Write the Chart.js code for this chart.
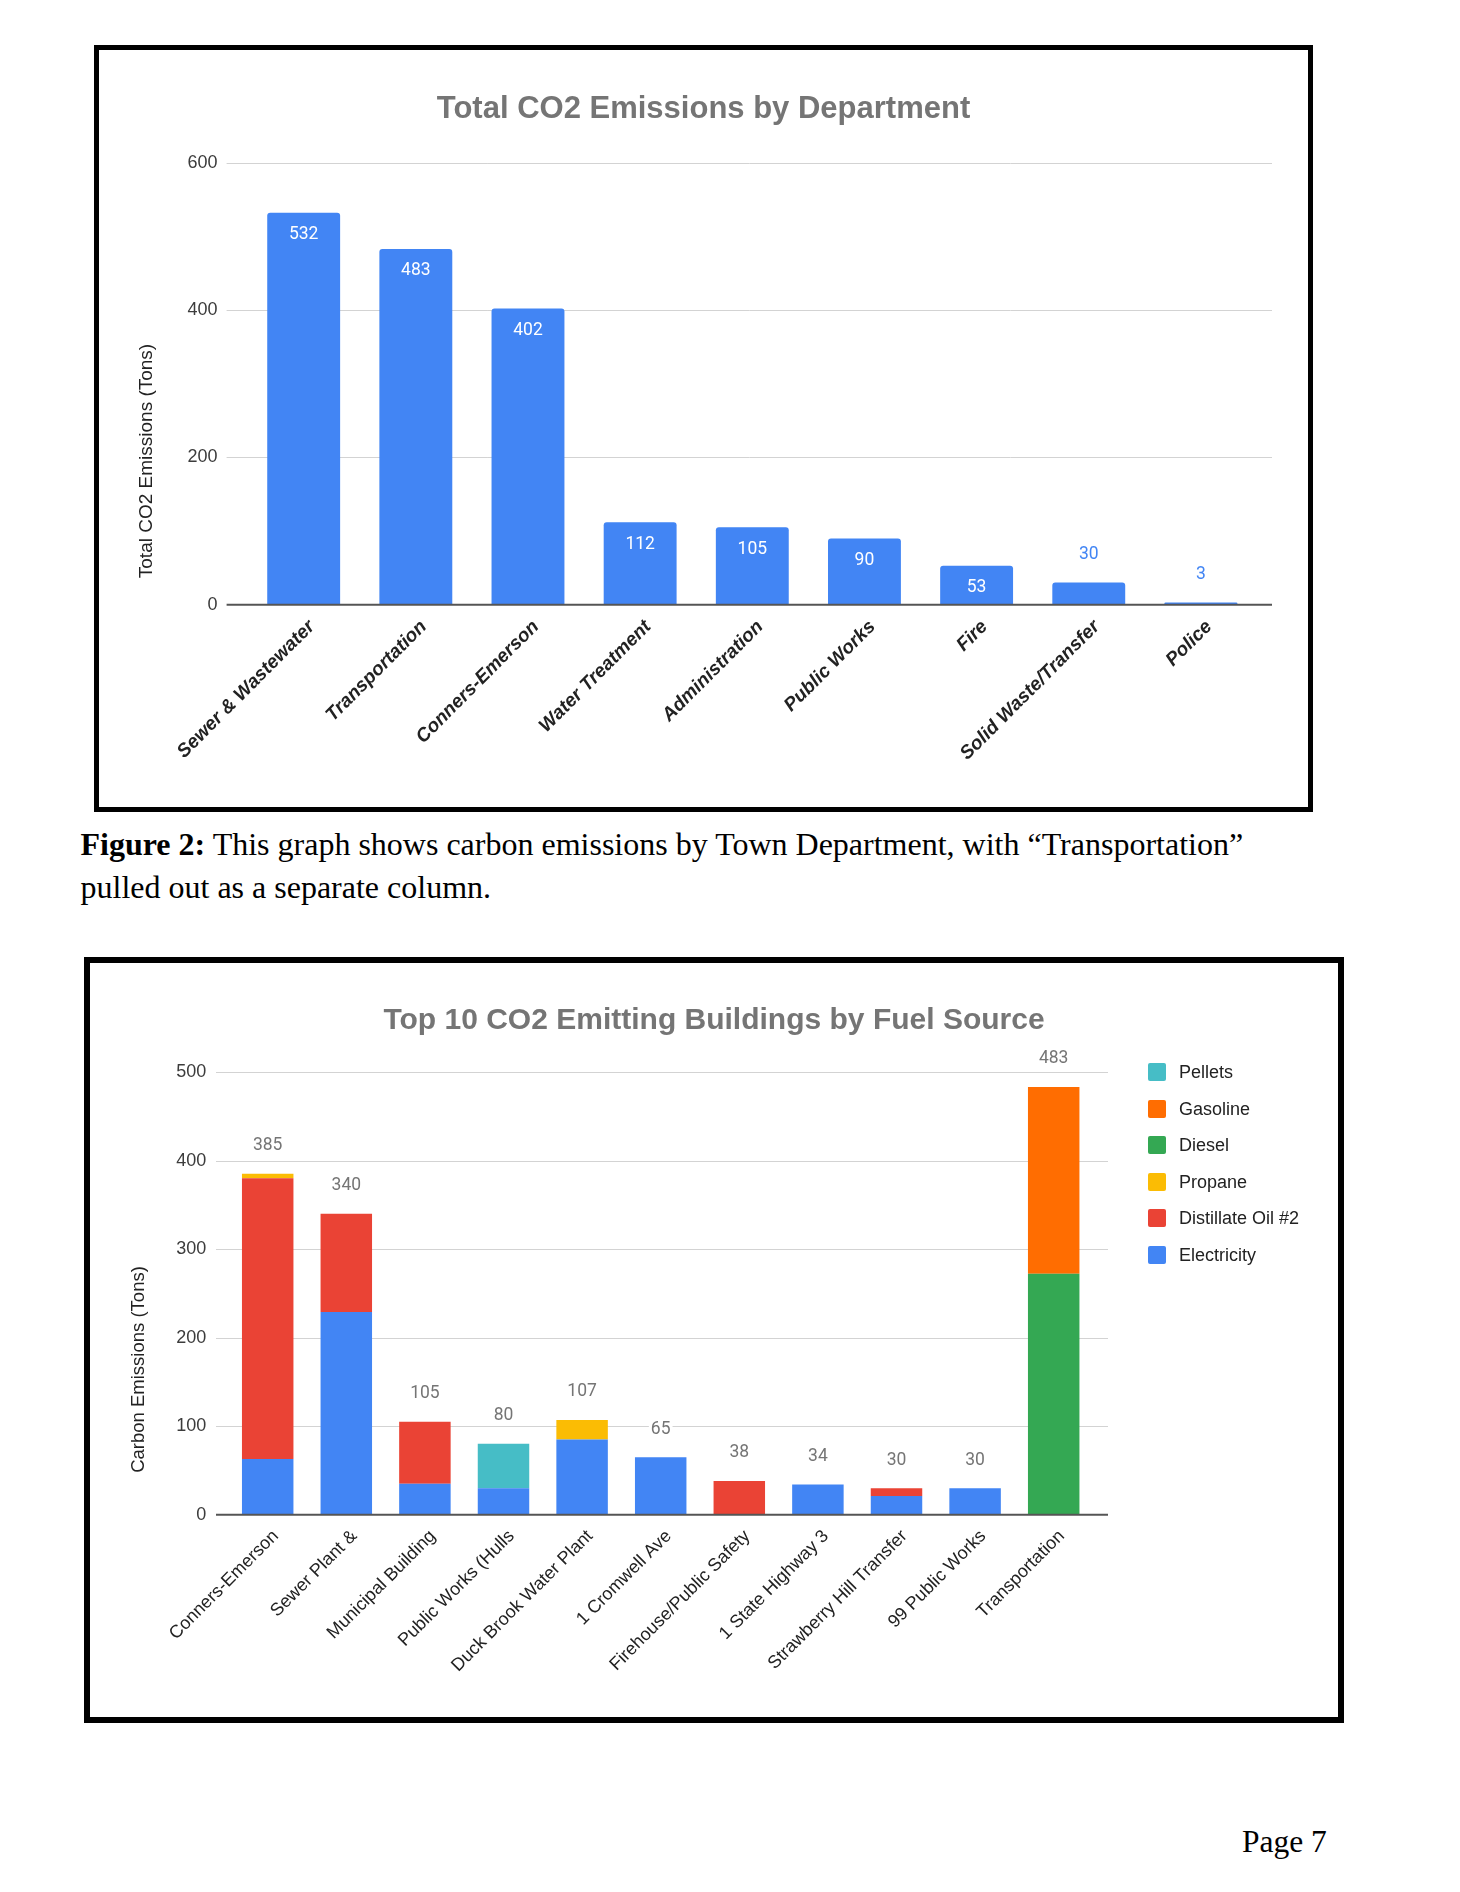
<!DOCTYPE html>
<html>
<head>
<meta charset="utf-8">
<script src="https://cdn.jsdelivr.net/npm/chart.js@4.4.1/dist/chart.umd.min.js"></script>
<style>
  body { margin: 0; background: #fff; width: 1460px; height: 1892px; position: relative; overflow: hidden; }
  .box { position: absolute; border: 5px solid #000; background: #fff; }
  #box1 { left: 94px; top: 45px; width: 1209px; height: 757px; }
  #box2 { left: 84px; top: 957px; width: 1248px; height: 754px; border-width: 6px; }
  canvas { display: block; }
  .caption { position: absolute; left: 80.5px; top: 823px; width: 1340px; font-family: 'Liberation Serif', 'Times New Roman', serif; font-size: 32px; line-height: 43px; color: #000; }
  .page { position: absolute; left: 1242px; top: 1824px; font-family: 'Liberation Serif', 'Times New Roman', serif; font-size: 31.5px; line-height: 36px; color: #000; }
  #legend2 { position: absolute; left: 1148px; top: 1063px; font-family: 'Liberation Sans', Arial, sans-serif; font-size: 18px; color: #222; }
  #legend2 .item { position: absolute; left: 0; height: 18px; white-space: nowrap; }
  #legend2 .swatch { position: absolute; left: 0; top: 0; width: 18px; height: 18px; border-radius: 2px; }
  #legend2 .text { position: absolute; left: 31px; top: 0; line-height: 18px; }
</style>
</head>
<body>
<div class="box" id="box1"><canvas id="deptChart" width="1209" height="757"></canvas></div>
<div class="caption"><b>Figure 2:</b> This graph shows carbon emissions by Town Department, with “Transportation”<br>pulled out as a separate column.</div>
<div class="box" id="box2"><canvas id="fuelChart" width="1248" height="754"></canvas></div>
<div id="legend2"></div>
<div class="page">Page 7</div>

<script>
// Chart 1: total emissions per department
const departments = ['Sewer & Wastewater', 'Transportation', 'Conners-Emerson', 'Water Treatment', 'Administration', 'Public Works', 'Fire', 'Solid Waste/Transfer', 'Police'];
const deptEmissions = [532, 483, 402, 112, 105, 90, 53, 30, 3];
const deptTicks = [0, 200, 400, 600];

// Chart 2: top 10 buildings, stacked by fuel source
const buildings = ['Conners-Emerson', 'Sewer Plant &', 'Municipal Building', 'Public Works (Hulls', 'Duck Brook Water Plant', '1 Cromwell Ave', 'Firehouse/Public Safety', '1 State Highway 3', 'Strawberry Hill Transfer', '99 Public Works', 'Transportation'];
const electricity   = [63, 229, 35, 30, 85, 65, 0, 34, 21, 30, 0];
const distillateOil = [317, 111, 70, 0, 0, 0, 38, 0, 9, 0, 0];
const propane       = [5, 0, 0, 0, 22, 0, 0, 0, 0, 0, 0];
const diesel        = [0, 0, 0, 0, 0, 0, 0, 0, 0, 0, 272];
const gasoline      = [0, 0, 0, 0, 0, 0, 0, 0, 0, 0, 211];
const pellets       = [0, 0, 0, 50, 0, 0, 0, 0, 0, 0, 0];
const fuelTicks = [0, 100, 200, 300, 400, 500];

Chart.defaults.font.family = "'Liberation Sans', Arial, sans-serif";

// gridlines drawn a bit wider than the category band, like Google Sheets does
const gridPlugin = {
    id: 'sheetGrid',
    beforeDatasetsDraw(chart, args, opts) {
        const ctx = chart.ctx, y = chart.scales.y, area = chart.chartArea;
        ctx.save();
        ctx.strokeStyle = '#d3d3d3';
        ctx.lineWidth = 1;
        y.ticks.forEach(t => {
            if (t.value === 0) return;
            const py = Math.round(y.getPixelForValue(t.value)) + 0.5;
            ctx.beginPath();
            ctx.moveTo(area.left - opts.extendLeft, py);
            ctx.lineTo(area.right + opts.extendRight, py);
            ctx.stroke();
        });
        ctx.restore();
    },
    afterDatasetsDraw(chart, args, opts) {
        const ctx = chart.ctx, y = chart.scales.y, area = chart.chartArea;
        const py = y.getPixelForValue(0);
        ctx.save();
        ctx.strokeStyle = '#555';
        ctx.lineWidth = 2;
        ctx.beginPath();
        ctx.moveTo(area.left - opts.extendLeft, py);
        ctx.lineTo(area.right + opts.extendRight, py);
        ctx.stroke();
        ctx.restore();
    }
};

// rotated y axis title, centred where the original puts it
const axisTitlePlugin = {
    id: 'axisTitle',
    afterDraw(chart, args, opts) {
        const ctx = chart.ctx;
        ctx.save();
        ctx.translate(opts.x, opts.y);
        ctx.rotate(-Math.PI / 2);
        ctx.font = opts.size + "px 'Liberation Sans', Arial, sans-serif";
        ctx.fillStyle = '#222';
        ctx.textAlign = 'center';
        ctx.textBaseline = 'middle';
        ctx.fillText(opts.text, 0, 0);
        ctx.restore();
    }
};

// value labels for chart 1: inside the bar when it is tall enough, above otherwise
const deptLabelPlugin = {
    id: 'deptLabels',
    afterDatasetsDraw(chart) {
        const ctx = chart.ctx;
        const meta = chart.getDatasetMeta(0);
        const values = chart.data.datasets[0].data;
        ctx.save();
        ctx.font = '17.5px Roboto';
        ctx.textAlign = 'center';
        ctx.textBaseline = 'middle';
        meta.data.forEach((bar, i) => {
            const v = values[i];
            if (v >= 50) {
                ctx.fillStyle = '#fff';
                ctx.fillText(String(v), bar.x, bar.y + 22);
            } else {
                ctx.fillStyle = '#4285F4';
                ctx.fillText(String(v), bar.x, bar.y - 28);
            }
        });
        ctx.restore();
    }
};

// stack totals for chart 2
const totalLabelPlugin = {
    id: 'stackTotals',
    afterDatasetsDraw(chart) {
        const ctx = chart.ctx;
        const y = chart.scales.y, x = chart.scales.x;
        ctx.save();
        ctx.font = '17.5px Roboto';
        ctx.textAlign = 'center';
        ctx.textBaseline = 'middle';
        chart.data.labels.forEach((lbl, i) => {
            let total = 0;
            chart.data.datasets.forEach(ds => { total += ds.data[i]; });
            const px = x.getPixelForValue(i);
            const py = y.getPixelForValue(total) - 28;
            const w = ctx.measureText(String(total)).width;
            ctx.fillStyle = '#fff';
            ctx.fillRect(px - w / 2 - 2, py - 9, w + 4, 18);
            ctx.fillStyle = '#757575';
            ctx.fillText(String(total), px, py);
        });
        ctx.restore();
    }
};

// empty right-hand axis, only reserves room so the title stays centred on the whole canvas
function spacerAxis(width) {
    return {
        position: 'right',
        display: true,
        grid: { display: false },
        border: { display: false },
        ticks: { display: false },
        afterFit: s => { s.width = width; }
    };
}

const ctx1 = document.getElementById('deptChart').getContext('2d');
const deptChart = new Chart(ctx1, {
    type: 'bar',
    data: {
        labels: departments,
        datasets: [{
            label: 'Total CO2 Emissions (Tons)',
            data: deptEmissions,
            backgroundColor: '#4285F4',
            borderRadius: 3,
            borderSkipped: 'start',
            barPercentage: 0.65,
            categoryPercentage: 1
        }]
    },
    options: {
        responsive: false,
        animation: false,
        layout: { padding: 0 },
        plugins: {
            legend: { display: false },
            tooltip: { enabled: false },
            title: {
                display: true,
                text: 'Total CO2 Emissions by Department',
                color: '#757575',
                font: { size: 31, weight: 'bold' },
                padding: { top: 41.3, bottom: 34.2 }
            },
            sheetGrid: { extendLeft: 21, extendRight: 15 },
            axisTitle: { text: 'Total CO2 Emissions (Tons)', x: 48, y: 411, size: 19 }
        },
        scales: {
            x: {
                grid: { display: false },
                border: { display: false },
                ticks: {
                    autoSkip: false, maxRotation: 45, minRotation: 45, padding: 3, labelOffset: 8,
                    color: '#222',
                    font: { size: 19, weight: 'bold', style: 'italic' }
                },
                afterFit: s => { s.height = 202.3; }
            },
            y: {
                min: 0, max: 600,
                grid: { display: false },
                border: { display: false },
                ticks: { padding: 22, color: '#3c3c3c', font: { size: 18 } },
                afterBuildTicks: s => { s.ticks = deptTicks.map(v => ({ value: v })); },
                afterFit: s => { s.width = 148.6; }
            },
            ySpacer: spacerAxis(51)
        }
    },
    plugins: [gridPlugin, deptLabelPlugin, axisTitlePlugin]
});

const ctx2 = document.getElementById('fuelChart').getContext('2d');
const fuelChart = new Chart(ctx2, {
    type: 'bar',
    data: {
        labels: buildings,
        datasets: [
            { label: 'Electricity', data: electricity, backgroundColor: '#4285F4' },
            { label: 'Distillate Oil #2', data: distillateOil, backgroundColor: '#EA4335' },
            { label: 'Propane', data: propane, backgroundColor: '#FBBC04' },
            { label: 'Diesel', data: diesel, backgroundColor: '#34A853' },
            { label: 'Gasoline', data: gasoline, backgroundColor: '#FF6D01' },
            { label: 'Pellets', data: pellets, backgroundColor: '#46BDC6' }
        ].map(ds => Object.assign(ds, { barPercentage: 0.655, categoryPercentage: 1 }))
    },
    options: {
        responsive: false,
        animation: false,
        layout: { padding: 0 },
        plugins: {
            legend: { display: false },
            tooltip: { enabled: false },
            title: {
                display: true,
                text: 'Top 10 CO2 Emitting Buildings by Fuel Source',
                color: '#757575',
                font: { size: 30, weight: 'bold' },
                padding: { top: 39.4, bottom: 33.6 }
            },
            sheetGrid: { extendLeft: 12.4, extendRight: 15 },
            axisTitle: { text: 'Carbon Emissions (Tons)', x: 49, y: 406.5, size: 18.5 }
        },
        scales: {
            x: {
                stacked: true,
                grid: { display: false },
                border: { display: false },
                ticks: {
                    autoSkip: false, maxRotation: 45, minRotation: 45, padding: 3, labelOffset: 8,
                    color: '#222',
                    font: { size: 18 }
                },
                afterFit: s => { s.height = 202.3; }
            },
            y: {
                stacked: true,
                min: 0, max: 500,
                grid: { display: false },
                border: { display: false },
                ticks: { padding: 14.2, color: '#3c3c3c', font: { size: 18 } },
                afterBuildTicks: s => { s.ticks = fuelTicks.map(v => ({ value: v })); },
                afterFit: s => { s.width = 138.4; }
            },
            ySpacer: spacerAxis(245)
        }
    },
    plugins: [gridPlugin, totalLabelPlugin, axisTitlePlugin]
});

// legend on the right, top entry = top of the stack
const legendBox = document.getElementById('legend2');
fuelChart.data.datasets.slice().reverse().forEach((ds, i) => {
    const item = document.createElement('div');
    item.className = 'item';
    item.style.top = (i * 36.6) + 'px';
    item.innerHTML = '<span class="swatch" style="background:' + ds.backgroundColor + '"></span><span class="text">' + ds.label + '</span>';
    legendBox.appendChild(item);
});
</script>
</body>
</html>
